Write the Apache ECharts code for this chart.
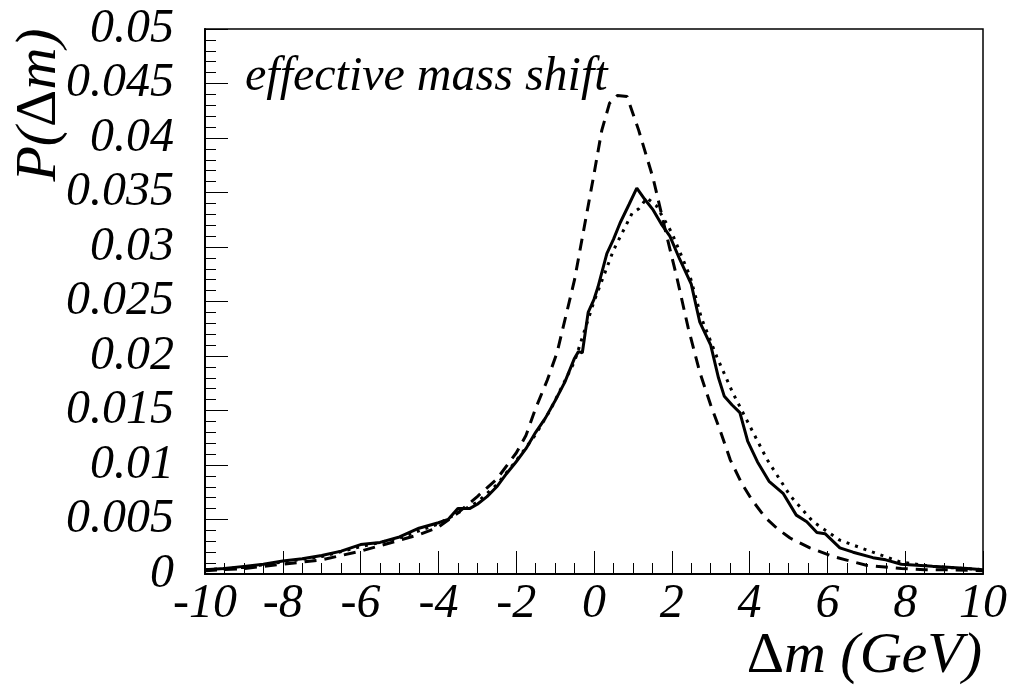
<!DOCTYPE html>
<html>
<head>
<meta charset="utf-8">
<script src="https://cdn.jsdelivr.net/npm/echarts@6/dist/echarts.min.js"></script>
<style>html,body{margin:0;padding:0;background:#fff}#c{width:1013px;height:688px}</style>
</head>
<body>
<div id="c"></div>
<script>
// x values (GeV) and P(dm) values for each curve
var solidX = [-10,-9.5,-9,-8.5,-8,-7.5,-7,-6.5,-6,-5.5,-5,-4.5,-4,-3.75,-3.5,-3.2,-3,-2.75,-2.5,-2.25,-2,-1.75,-1.5,-1.25,-1,-0.75,-0.5,-0.4,-0.3,-0.15,0,0.1,0.33,0.5,0.67,0.9,1.1,1.3,1.52,1.75,1.95,2.2,2.5,2.72,3.0,3.2,3.35,3.55,3.75,3.95,4.2,4.5,4.86,5.2,5.47,5.73,5.94,6.32,6.66,7.17,7.5,7.9,8.3,8.7,9.2,9.6,10];
var solidY = [0.0004,0.0005,0.0007,0.0009,0.0012,0.0014,0.0017,0.0021,0.0027,0.0029,0.0034,0.0042,0.0047,0.005,0.006,0.006,0.0064,0.0071,0.008,0.0092,0.0103,0.0115,0.013,0.0143,0.0159,0.0176,0.0198,0.0204,0.0203,0.024,0.0252,0.0263,0.0294,0.0307,0.0322,0.0339,0.0354,0.0344,0.0334,0.032,0.031,0.0289,0.0266,0.0231,0.021,0.018,0.0163,0.0155,0.0148,0.0122,0.0103,0.0085,0.0074,0.0054,0.0048,0.0038,0.0037,0.0024,0.002,0.0015,0.0013,0.0009,0.0008,0.0007,0.0006,0.0005,0.0004];

var dashX = [-10,-9,-8,-7.5,-7,-6.5,-6,-5.5,-5,-4.5,-4,-3.5,-3,-2.5,-2,-1.75,-1.5,-1.2,-0.95,-0.5,-0.03,0.2,0.4,0.6,0.85,1.15,1.52,1.83,2.13,2.42,2.72,3.0,3.24,3.5,3.8,4.06,4.4,4.7,5.04,5.55,6.15,7.0,7.9,8.5,9,10];
var dashY = [0.0003,0.0005,0.0009,0.0011,0.0013,0.0017,0.0021,0.0026,0.0031,0.0036,0.0043,0.0056,0.0071,0.0087,0.0111,0.0127,0.0152,0.0178,0.0203,0.027,0.0361,0.0407,0.0432,0.0439,0.0438,0.0407,0.0363,0.0316,0.0272,0.0226,0.0185,0.0155,0.0132,0.0105,0.0083,0.0068,0.0052,0.0042,0.0033,0.0024,0.0016,0.0008,0.0005,0.0004,0.0004,0.0003];

var dotX = [-10,-9,-8,-7,-6,-5,-4,-3,-2.5,-2,-1.5,-1.13,-0.5,0,0.5,0.98,1.15,1.36,1.6,2.0,2.47,2.76,3.16,3.57,3.93,4.45,5.04,5.63,6.32,7.17,7.87,8.7,9.5,10];
var dotY = [0.0004,0.0006,0.0011,0.0016,0.0025,0.0033,0.0046,0.0066,0.0082,0.0104,0.0128,0.015,0.0195,0.025,0.0297,0.0331,0.0335,0.0345,0.0338,0.0313,0.0273,0.0235,0.0199,0.0166,0.0141,0.0105,0.0072,0.0048,0.0031,0.002,0.0011,0.0007,0.0005,0.0004];

function pairs(xs, ys){ return xs.map(function(x,i){ return [x, ys[i]]; }); }

var chart = echarts.init(document.getElementById('c'), null, {renderer:'canvas'});
var serif = '"Liberation Serif","DejaVu Serif",serif';
chart.setOption({
  animation:false,
  backgroundColor:'#fff',
  grid:{left:205,right:30,top:29,bottom:114,show:true,borderColor:'#000',borderWidth:1.5,backgroundColor:'transparent'},
  xAxis:{
    type:'value',min:-10,max:10,interval:2,
    axisLine:{show:true,onZero:false,lineStyle:{color:'#000',width:2}},
    axisTick:{show:true,inside:true,length:23,lineStyle:{color:'#000',width:1}},
    minorTick:{show:true,splitNumber:4,length:11,lineStyle:{color:'#000',width:1}},
    splitLine:{show:false},
    axisLabel:{color:'#000',fontFamily:serif,fontStyle:'italic',fontSize:48,margin:6,
      formatter:function(v){return String(v);}}
  },
  yAxis:{
    type:'value',min:0,max:0.05,interval:0.005,
    axisLine:{show:true,onZero:false,lineStyle:{color:'#000',width:2}},
    axisTick:{show:true,inside:true,length:23,lineStyle:{color:'#000',width:1}},
    minorTick:{show:true,splitNumber:5,length:11,lineStyle:{color:'#000',width:1}},
    splitLine:{show:false},
    axisLabel:{color:'#000',fontFamily:serif,fontStyle:'italic',fontSize:48,margin:31,showMaxLabel:true,
      formatter:function(v){return String(+v.toFixed(3));}}
  },
  graphic:[
    {type:'text',left:245,top:53,style:{text:'effective mass shift',fill:'#000',font:'italic 48px '+serif}},
    {type:'text',x:982,y:686,style:{
      text:'{u|Δ}{i|m (GeV)}',textAlign:'right',textVerticalAlign:'bottom',
      rich:{u:{fontFamily:serif,fontSize:58,fill:'#000'},i:{fontFamily:serif,fontStyle:'italic',fontSize:58,fill:'#000'}}
    }},
    {type:'text',x:40,y:105,rotation:Math.PI/2,style:{
      text:'{i|P(}{u|Δ}{i|m)}',textAlign:'center',textVerticalAlign:'middle',
      rich:{u:{fontFamily:serif,fontSize:58,fill:'#000'},i:{fontFamily:serif,fontStyle:'italic',fontSize:58,fill:'#000'}}
    }}
  ],
  series:[
    {type:'line',data:pairs(dotX,dotY),showSymbol:false,lineStyle:{color:'#000',width:3,type:[3,6]},z:2},
    {type:'line',data:pairs(dashX,dashY),showSymbol:false,lineStyle:{color:'#000',width:3,type:[12,8]},z:3},
    {type:'line',data:pairs(solidX,solidY),showSymbol:false,lineStyle:{color:'#000',width:3},z:4}
  ]
});
</script>
</body>
</html>
